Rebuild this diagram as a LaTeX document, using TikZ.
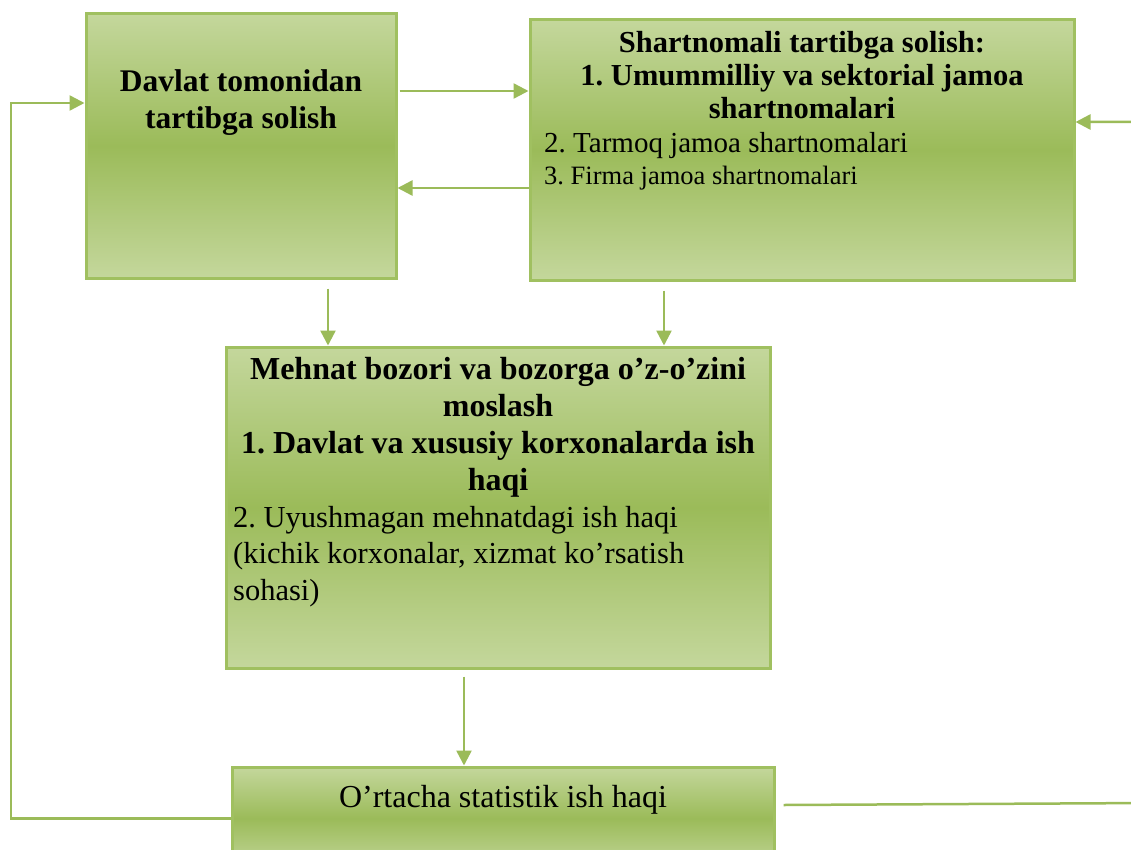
\documentclass[tikz,border=0pt]{standalone}
\usepackage{fontspec}
\setmainfont{Liberation Serif}
\usetikzlibrary{arrows.meta,calc}
\frenchspacing
\definecolor{gline}{RGB}{155,187,89}
\definecolor{gborder}{RGB}{160,192,96}
\definecolor{glight}{RGB}{196,215,156}
\definecolor{gmid}{RGB}{155,187,89}
\tikzset{
  box/.style={draw=gborder, line width=3pt, rectangle, inner sep=0pt,
    top color=glight, bottom color=glight, middle color=gmid},
  arr/.style={draw=gline, line width=2.5pt, -{Triangle[length=15pt,width=15pt]}},
  txt/.style={inner sep=0pt, text=black},
}
\begin{document}
\begin{tikzpicture}[x=1pt,y=-1pt]
\frenchspacing
\useasboundingbox (0,0) rectangle (1131,850);
% boxes
\node[box, minimum width=310pt, minimum height=264pt] (A) at (241,146) {};
\node[box, minimum width=544pt, minimum height=260pt] (B) at (802,150) {};
\node[box, minimum width=544pt, minimum height=321pt] (C) at (498,507.5) {};
\node[box, minimum width=542pt, minimum height=103pt] (D) at (503,818.5) {};
% texts (base anchor = baseline of the last line)
\node[txt, anchor=base, align=center, font=\fontsize{31.5}{37}\selectfont\bfseries] (At) at (241,129)
  {Davlat tomonidan\\tartibga solish};
\node[txt, anchor=base, align=center, font=\fontsize{30.5}{33}\selectfont\bfseries] (Bt) at (802,119)
  {Shartnomali tartibga solish:\\1. Umummilliy va sektorial jamoa\\shartnomalari};
\node[txt, anchor=base west, font=\fontsize{29}{33}\selectfont] (Bt2) at (544,153)
  {2. Tarmoq jamoa shartnomalari};
\node[txt, anchor=base west, font=\fontsize{26.5}{30}\selectfont] (Bt3) at (544,185)
  {3. Firma jamoa shartnomalari};
\node[txt, anchor=base, align=center, font=\fontsize{32}{37}\selectfont\bfseries] (Ct) at (498,490)
  {Mehnat bozori va bozorga o’z-o’zini\\moslash\\1. Davlat va xususiy korxonalarda ish\\haqi};
\node[txt, anchor=base west, align=left, font=\fontsize{30.5}{36.5}\selectfont] (Ct2) at (233,600)
  {2. Uyushmagan mehnatdagi ish haqi\\(kichik korxonalar, xizmat ko’rsatish\\sohasi)};
\node[txt, anchor=base, font=\fontsize{32}{37}\selectfont] (Dt) at (503,807)
  {O’rtacha statistik ish haqi};
% connectors
\draw[arr, shorten <=2pt] (A.east |- 0,91) -- (B.west |- 0,91);
\draw[arr] (B.west |- 0,188) -- (A.east |- 0,188);
\draw[arr, shorten <=9pt] (A.south -| 328,0) -- (C.north -| 328,0);
\draw[arr, shorten <=9pt] (B.south -| 664,0) -- (C.north -| 664,0);
\draw[arr, shorten <=7pt] (C.south -| 464,0) -- (D.north -| 464,0);
\coordinate (L) at (11,103);
\draw[arr] (D.west) -| (L) -- (A.west |- L);
\coordinate (R) at (1150,803);
\draw[arr] ([xshift=8pt]D.east |- 0,805) -- (R) |- (B.east |- 0,122);
\end{tikzpicture}
\end{document}
